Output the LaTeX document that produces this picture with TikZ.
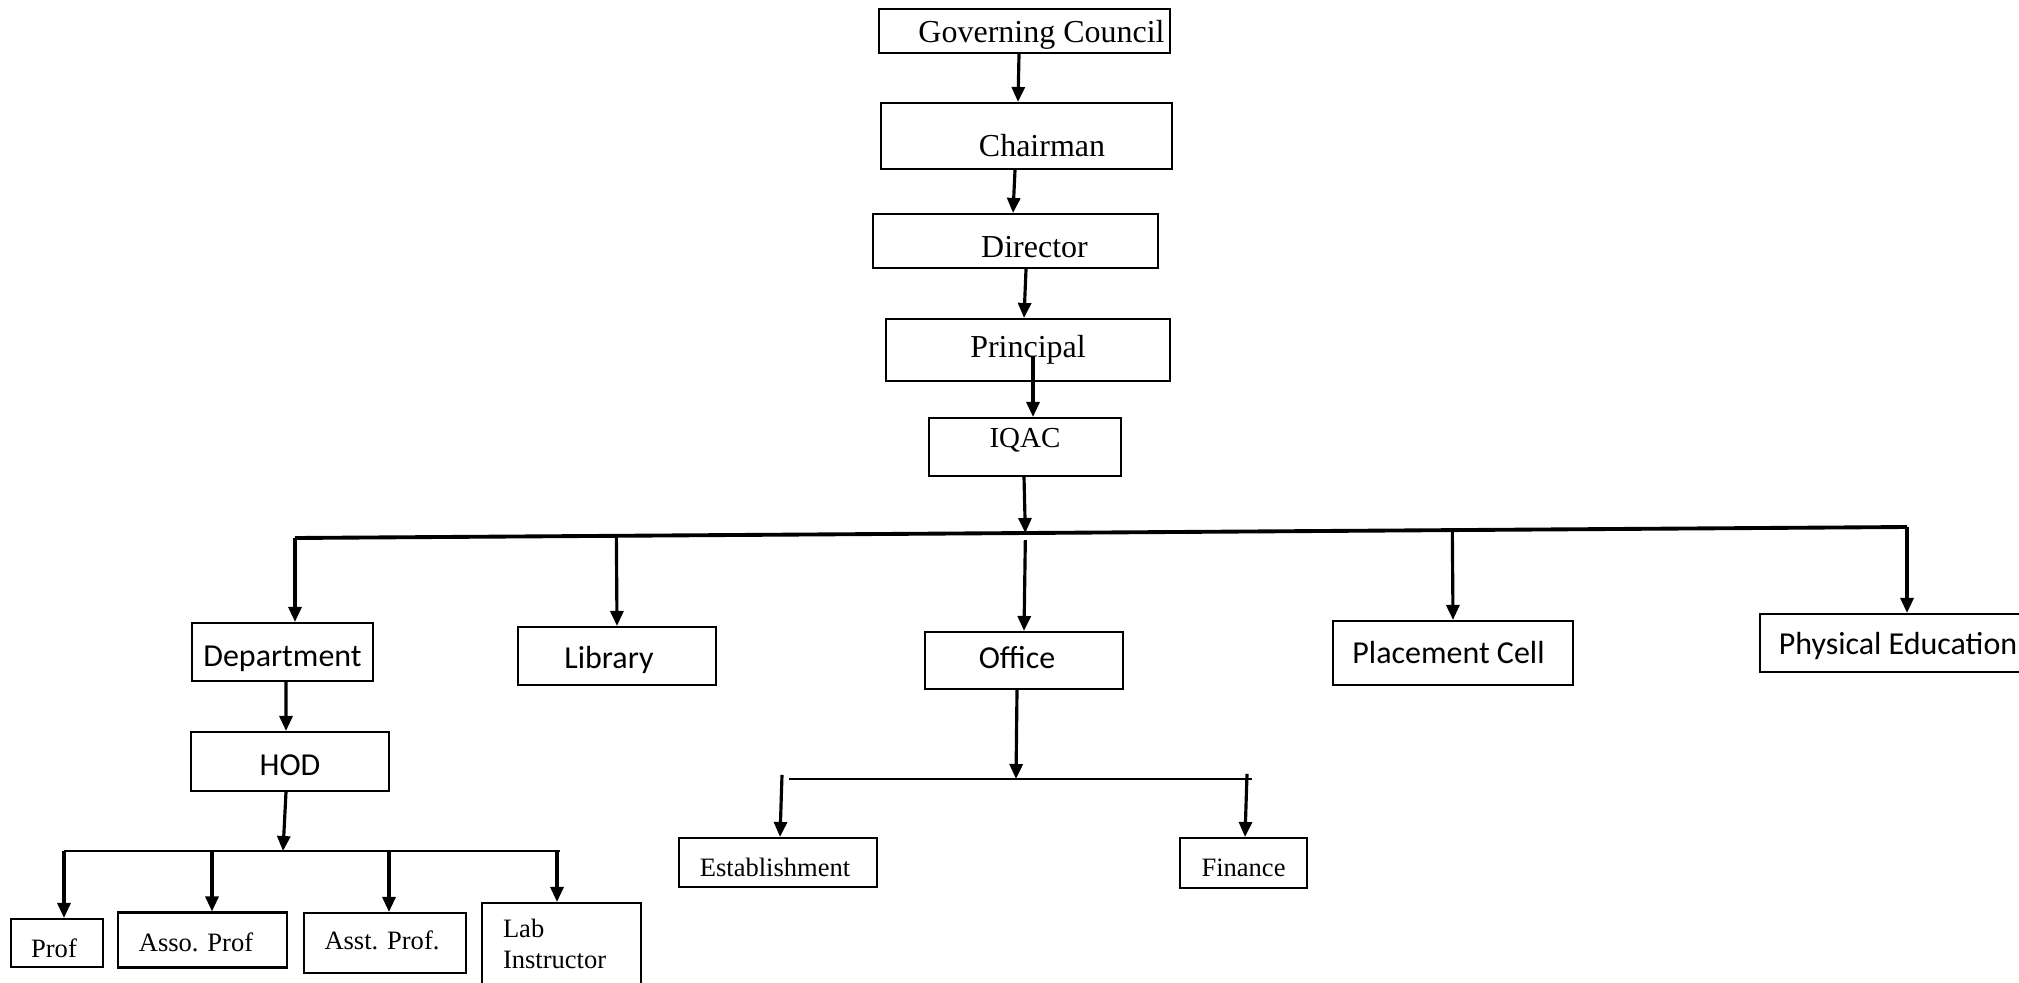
\documentclass[tikz,border=0pt]{standalone}
\usepackage{fontspec}
\setmainfont{Liberation Serif}
\newfontfamily\calib{Carlito}
\usetikzlibrary{arrows.meta,calc}

\begin{document}
\begin{tikzpicture}
		[x=1cm,y=1cm,every node/.style={inner sep=0pt,font=\fontsize{9.1}{11}\selectfont},
		box/.style 2 args={draw,rectangle,line width=0.6pt,minimum width=#1cm,minimum height=#2cm},
		cal/.style={font=\fontsize{9.1}{11}\selectfont\calib},
		smalltxt/.style={font=\fontsize{7.55}{8.8}\selectfont},
		arr/.style={line width=0.9pt,-{Triangle[length=0.15cm,width=0.13cm]}}]
		\useasboundingbox (0,0) rectangle (20.19,-9.82);
		%top of the chart
		\node[box={2.91}{0.44},label={[shift={(0.17,-0.04)}]center:Governing Council}] (gov) at (10.245,-0.31) {};
		\node[box={2.91}{0.66},label={[shift={(0.155,-0.095)}]center:Chairman}] (chair) at (10.265,-1.36) {};
		\node[box={2.85}{0.54},label={[shift={(0.19,-0.06)}]center:Director}] (dir) at (10.155,-2.41) {};
		\node[box={2.84}{0.62}] (pr) at (10.28,-3.50) {Principal};
		\node[box={1.92}{0.58},label={[font=\fontsize{8.25}{10}\selectfont,shift={(0,0.065)}]center:IQAC}] (iqac) at (10.25,-4.47) {};
		\draw[arr] ([xshift=-0.055cm]gov.south) -- ([xshift=-0.085cm]chair.north);
		\draw[arr] ([xshift=-0.115cm]chair.south) -- ([xshift=-0.025cm]dir.north);
		\draw[arr] ([xshift=0.105cm]dir.south) -- ([xshift=-0.04cm]pr.north);
		\draw[arr] ([xshift=0.05cm,yshift=-0.07cm]pr.center) -- ([xshift=0.08cm]iqac.north);
		
		%second row
		\node[box={1.81}{0.58},label={[cal,shift={(0,-0.065)}]center:Department}] (dept) at (2.825,-6.52) {};
		\node[box={1.98}{0.58},label={[cal,shift={(-0.08,-0.04)}]center:Library}] (lib) at (6.17,-6.56) {};
		\node[box={1.98}{0.57},label={[cal,shift={(-0.07,0.025)}]center:Office}] (office) at (10.24,-6.605) {};
		\node[box={2.40}{0.64},label={[cal,shift={(-0.045,0.005)}]center:Placement Cell}] (place) at (14.53,-6.53) {};
		\node[box={2.76}{0.58},label={[cal,shift={(0,-0.025)}]center:Physical Education}] (phys) at (18.98,-6.43) {};
		\coordinate (busL) at (2.95,-5.38);
		\coordinate (busR) at (19.07,-5.27);
		\coordinate (busM) at ($(busL)!(iqac.south)!(busR)$);
		\draw[line width=1.1pt] (busL) -- (busR);
		\draw[arr] ([xshift=-0.01cm]iqac.south) -- (busM);
		\draw[arr] (busL) -- (busL |- dept.north);
		\draw[arr] (busR) -- (busR |- phys.north);
		\draw[arr] ([yshift=-0.07cm]busM) -- (office.north);
		\foreach \n in {lib,place}
		\draw[arr] ($(busL)!(\n.north)!(busR)$) -- (\n.north);
		
		%department side
		\node[box={1.98}{0.59},label={[cal,shift={(0,-0.04)}]center:HOD}] (hod) at (2.90,-7.615) {};
		\node[box={0.92}{0.48},label={[smalltxt,shift={(-0.03,-0.05)}]center:Prof}] (prof) at (0.57,-9.43) {};
		\node[box={1.69}{0.55},label={[smalltxt,shift={(-0.065,-0.025)}]center:Asso. Prof}] (asso) at (2.025,-9.40) {};
		\node[box={1.62}{0.60},label={[smalltxt,shift={(-0.03,0.025)}]center:Asst. Prof.}] (asst) at (3.85,-9.43) {};
		\node[box={1.59}{0.92},label={[smalltxt,align=left,text width=1.17cm,shift={(0,0.05)}]center:Lab\\Instructor}] (lab) at (5.615,-9.49) {};
		\coordinate (hbL) at (0.64,-8.51);
		\coordinate (hbR) at (5.60,-8.51);
		\draw[line width=0.8pt] (hbL) -- (hbR);
		\draw[arr] ([xshift=0.035cm]dept.south) -- ([xshift=-0.04cm]hod.north);
		\draw[arr] ([xshift=-0.04cm]hod.south) -- ([xshift=-0.07cm]hod.south |- hbL);
		\foreach \n/\dx in {prof/0.07,asso/0.095,asst/0.04,lab/-0.045}
		\draw[arr] ([xshift=\dx cm]\n.north |- hbL) -- ([xshift=\dx cm]\n.north);
		
		%office side
		\node[box={1.98}{0.49},label={[smalltxt,shift={(-0.03,-0.05)}]center:Establishment}] (est) at (7.78,-8.625) {};
		\node[box={1.27}{0.50},label={[smalltxt,shift={(0,-0.05)}]center:Finance}] (fin) at (12.435,-8.63) {};
		\coordinate (obL) at (7.89,-7.79);
		\coordinate (obR) at (12.52,-7.79);
		\draw[line width=0.8pt] (obL) -- (obR);
		\draw[arr] ([xshift=-0.07cm]office.south) -- ([xshift=-0.08cm]office.south |- obL);
		\draw[arr] ([xshift=0.04cm,yshift=0.62cm]est.north) -- ([xshift=0.02cm]est.north);
		\draw[arr] ([xshift=0.035cm,yshift=0.63cm]fin.north) -- ([xshift=0.015cm]fin.north);
	\end{tikzpicture}
\end{document}
